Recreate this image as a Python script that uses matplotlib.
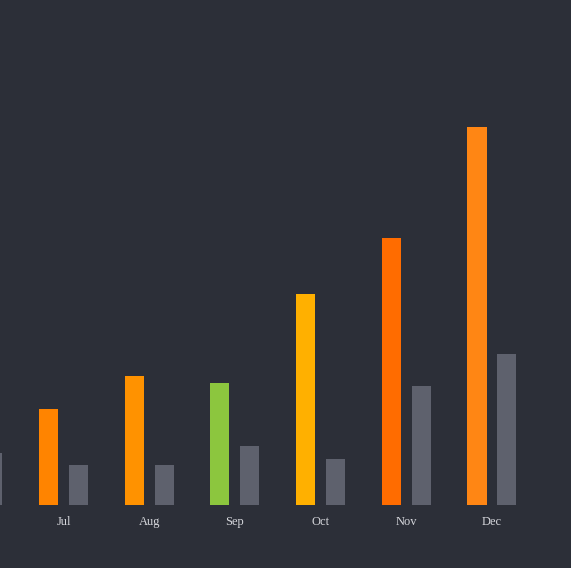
import numpy as np
import matplotlib
matplotlib.use('Agg')
import matplotlib.pyplot as plt

# months (Jun is cut off at the left edge of the picture, only its gray bar shows)
months = ["Jun", "Jul", "Aug", "Sep", "Oct", "Nov", "Dec"]
current = [np.nan, 25.4, 34.1, 32.3, 55.8, 70.6, 100.0]
previous = [13.8, 10.6, 10.6, 15.6, 12.2, 31.5, 39.9]
bar_colors = ["#ff8a00", "#ff8400", "#ff9200", "#8cc63e", "#ffb000", "#ff6c00", "#ff8614"]

BG = "#2c2f38"
GRAY = "#5e616d"

fig = plt.figure(figsize=(5.71, 5.68), dpi=100)
fig.patch.set_facecolor(BG)
ax = fig.add_axes([0, 0, 1, 1])
ax.set_facecolor(BG)

x = np.arange(len(months))
width = 0.222
offset = 0.175
ax.bar(x - offset, current, width=width, color=bar_colors)
ax.bar(x + offset, previous, width=width, color=GRAY)

# Jun's label lies outside the visible area
for i, m in enumerate(months):
    if i == 0:
        continue
    ax.text(i, -4.5, m, ha="center", va="center", fontsize=9,
            family="Liberation Serif", color="#d6d7dc")

ax.set_xlim(0.259, 6.922)
ax.set_ylim(-16.67, 133.6)
ax.axis("off")

fig.savefig("out.png", dpi=100, facecolor=BG)
